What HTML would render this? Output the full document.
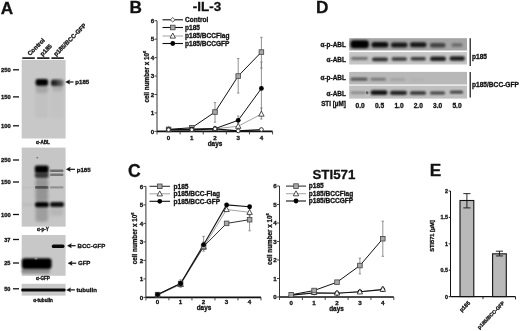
<!DOCTYPE html>
<html><head><meta charset="utf-8"><style>
html,body{margin:0;padding:0;background:#fff;}
svg{display:block;filter:blur(0.3px);}
</style></head><body>
<svg width="520" height="331" viewBox="0 0 520 331" font-family='"Liberation Sans", sans-serif'>
<style>text{stroke:#111;stroke-width:0.3px;paint-order:stroke;}</style>
<defs><filter id="b1" x="-50%" y="-50%" width="200%" height="200%"><feGaussianBlur stdDeviation="0.1"/></filter><filter id="b2" x="-50%" y="-50%" width="200%" height="200%"><feGaussianBlur stdDeviation="0.2"/></filter><filter id="b3" x="-50%" y="-50%" width="200%" height="200%"><feGaussianBlur stdDeviation="0.3"/></filter><filter id="b4" x="-50%" y="-50%" width="200%" height="200%"><feGaussianBlur stdDeviation="0.4"/></filter><filter id="b5" x="-50%" y="-50%" width="200%" height="200%"><feGaussianBlur stdDeviation="0.5"/></filter><filter id="b6" x="-50%" y="-50%" width="200%" height="200%"><feGaussianBlur stdDeviation="0.6"/></filter><filter id="b7" x="-50%" y="-50%" width="200%" height="200%"><feGaussianBlur stdDeviation="0.7"/></filter><filter id="b8" x="-50%" y="-50%" width="200%" height="200%"><feGaussianBlur stdDeviation="0.8"/></filter><filter id="b9" x="-50%" y="-50%" width="200%" height="200%"><feGaussianBlur stdDeviation="0.9"/></filter><filter id="b10" x="-50%" y="-50%" width="200%" height="200%"><feGaussianBlur stdDeviation="1.0"/></filter><filter id="b11" x="-50%" y="-50%" width="200%" height="200%"><feGaussianBlur stdDeviation="1.1"/></filter><filter id="b12" x="-50%" y="-50%" width="200%" height="200%"><feGaussianBlur stdDeviation="1.2"/></filter><filter id="b13" x="-50%" y="-50%" width="200%" height="200%"><feGaussianBlur stdDeviation="1.3"/></filter><filter id="b14" x="-50%" y="-50%" width="200%" height="200%"><feGaussianBlur stdDeviation="1.4"/></filter><filter id="b15" x="-50%" y="-50%" width="200%" height="200%"><feGaussianBlur stdDeviation="1.5"/></filter><filter id="b16" x="-50%" y="-50%" width="200%" height="200%"><feGaussianBlur stdDeviation="1.6"/></filter><filter id="b17" x="-50%" y="-50%" width="200%" height="200%"><feGaussianBlur stdDeviation="1.7"/></filter><filter id="b18" x="-50%" y="-50%" width="200%" height="200%"><feGaussianBlur stdDeviation="1.8"/></filter><filter id="b19" x="-50%" y="-50%" width="200%" height="200%"><feGaussianBlur stdDeviation="1.9"/></filter><filter id="b20" x="-50%" y="-50%" width="200%" height="200%"><feGaussianBlur stdDeviation="2.0"/></filter><filter id="b21" x="-50%" y="-50%" width="200%" height="200%"><feGaussianBlur stdDeviation="2.1"/></filter><filter id="b22" x="-50%" y="-50%" width="200%" height="200%"><feGaussianBlur stdDeviation="2.2"/></filter><filter id="b23" x="-50%" y="-50%" width="200%" height="200%"><feGaussianBlur stdDeviation="2.3"/></filter><filter id="b24" x="-50%" y="-50%" width="200%" height="200%"><feGaussianBlur stdDeviation="2.4"/></filter><filter id="b25" x="-50%" y="-50%" width="200%" height="200%"><feGaussianBlur stdDeviation="2.5"/></filter><filter id="b26" x="-50%" y="-50%" width="200%" height="200%"><feGaussianBlur stdDeviation="2.6"/></filter><filter id="b27" x="-50%" y="-50%" width="200%" height="200%"><feGaussianBlur stdDeviation="2.7"/></filter><filter id="b28" x="-50%" y="-50%" width="200%" height="200%"><feGaussianBlur stdDeviation="2.8"/></filter><filter id="b29" x="-50%" y="-50%" width="200%" height="200%"><feGaussianBlur stdDeviation="2.9"/></filter><filter id="b30" x="-50%" y="-50%" width="200%" height="200%"><feGaussianBlur stdDeviation="3.0"/></filter><linearGradient id="g3" x1="0" x2="1" y1="0" y2="0"><stop offset="0" stop-color="#000" stop-opacity="0.92"/><stop offset="0.45" stop-color="#000" stop-opacity="0.72"/><stop offset="1" stop-color="#000" stop-opacity="0.35"/></linearGradient></defs>
<rect width="520" height="331" fill="#fff"/>
<text x="0.70" y="14.30" font-size="17.2" text-anchor="start" font-weight="bold" fill="#111" >A</text>
<text x="129.60" y="13.40" font-size="17.2" text-anchor="start" font-weight="bold" fill="#111" >B</text>
<text x="128.00" y="176.90" font-size="17.6" text-anchor="start" font-weight="bold" fill="#111" >C</text>
<text x="316.00" y="13.30" font-size="17.2" text-anchor="start" font-weight="bold" fill="#111" >D</text>
<text x="429.80" y="176.00" font-size="17.2" text-anchor="start" font-weight="bold" fill="#111" >E</text>
<line x1="22.30" y1="58.10" x2="34.80" y2="58.10" stroke="#111" stroke-width="1.6"/>
<line x1="37.10" y1="58.10" x2="49.50" y2="58.10" stroke="#111" stroke-width="1.6"/>
<line x1="51.40" y1="58.10" x2="63.80" y2="58.10" stroke="#111" stroke-width="1.6"/>
<text transform="translate(30.00,56.00) rotate(-45)" font-size="6.1" text-anchor="start" font-weight="bold" fill="#111">Control</text>
<text transform="translate(42.60,56.40) rotate(-45)" font-size="6.1" text-anchor="start" font-weight="bold" fill="#111">p185</text>
<text transform="translate(56.00,56.60) rotate(-45)" font-size="6.1" text-anchor="start" font-weight="bold" fill="#111">p185/BCC-GFP</text>
<rect x="21.70" y="60.00" width="43.90" height="78.50" fill="#c8c8c8" />
<rect x="35.00" y="82.00" width="13.50" height="36.00" rx="2.00" fill="#000" fill-opacity="0.035" filter="url(#b15)"/>
<rect x="51.00" y="82.00" width="13.00" height="36.00" rx="2.00" fill="#000" fill-opacity="0.025" filter="url(#b15)"/>
<rect x="35.60" y="79.10" width="12.50" height="6.60" rx="2.20" fill="#000" fill-opacity="1.0" filter="url(#b8)"/>
<rect x="36.00" y="85.00" width="12.00" height="8.00" rx="3.00" fill="#000" fill-opacity="0.14" filter="url(#b15)"/>
<rect x="51.0" y="79.6" width="12.8" height="6.4" rx="2.6" fill="url(#g3)" filter="url(#b8)"/>
<rect x="52.00" y="85.00" width="11.00" height="6.00" rx="3.00" fill="#000" fill-opacity="0.12" filter="url(#b15)"/>
<text x="43.00" y="143.60" font-size="4.6" text-anchor="middle" font-weight="bold" fill="#111" >α-ABL</text>
<text x="1.00" y="71.80" font-size="5.8" text-anchor="start" font-weight="bold" fill="#111" >250</text>
<line x1="13.00" y1="69.80" x2="19.00" y2="69.80" stroke="#111" stroke-width="1.3"/>
<text x="1.00" y="98.90" font-size="5.8" text-anchor="start" font-weight="bold" fill="#111" >150</text>
<line x1="13.00" y1="96.90" x2="19.00" y2="96.90" stroke="#111" stroke-width="1.3"/>
<text x="1.00" y="127.80" font-size="5.8" text-anchor="start" font-weight="bold" fill="#111" >100</text>
<line x1="13.00" y1="125.80" x2="19.00" y2="125.80" stroke="#111" stroke-width="1.3"/>
<line x1="68.60" y1="82.00" x2="73.50" y2="82.00" stroke="#111" stroke-width="1.2"/>
<path d="M65.60,82.00 L69.80,79.80 L69.00,82.00 L69.80,84.20 Z" fill="#111" stroke="#111" stroke-width="0.3"/>
<text x="75.30" y="84.00" font-size="6.1" text-anchor="start" font-weight="bold" fill="#111" >p185</text>
<rect x="21.70" y="147.60" width="43.90" height="79.00" fill="#c6c6c6" />
<rect x="35.50" y="178.00" width="12.50" height="24.00" rx="3.00" fill="#000" fill-opacity="0.25" filter="url(#b16)"/>
<rect x="35.50" y="206.00" width="12.50" height="16.00" rx="3.00" fill="#000" fill-opacity="0.2" filter="url(#b16)"/>
<rect x="34.80" y="165.55" width="13.80" height="7.50" rx="2.00" fill="#000" fill-opacity="1.0" filter="url(#b8)"/>
<rect x="34.80" y="172.45" width="13.80" height="5.50" rx="2.00" fill="#000" fill-opacity="0.72" filter="url(#b8)"/>
<rect x="35.00" y="186.00" width="13.50" height="2.80" rx="1.20" fill="#000" fill-opacity="0.45" filter="url(#b7)"/>
<rect x="35.00" y="202.00" width="13.80" height="5.20" rx="2.00" fill="#000" fill-opacity="1.0" filter="url(#b8)"/>
<ellipse cx="37.30" cy="157.80" rx="1.00" ry="0.80" fill="#000" fill-opacity="0.45" filter="url(#b5)"/>
<rect x="50.00" y="169.60" width="13.50" height="2.40" rx="1.20" fill="#000" fill-opacity="0.45" filter="url(#b6)"/>
<rect x="50.00" y="173.50" width="13.50" height="2.40" rx="1.20" fill="#000" fill-opacity="0.4" filter="url(#b6)"/>
<rect x="50.00" y="186.20" width="13.50" height="2.40" rx="1.20" fill="#000" fill-opacity="0.26" filter="url(#b7)"/>
<rect x="50.00" y="202.10" width="14.00" height="5.00" rx="2.00" fill="#000" fill-opacity="0.92" filter="url(#b9)"/>
<rect x="50.00" y="208.00" width="13.00" height="8.00" rx="3.00" fill="#000" fill-opacity="0.08" filter="url(#b15)"/>
<rect x="22.00" y="186.40" width="12.00" height="2.00" rx="1.00" fill="#000" fill-opacity="0.03" filter="url(#b6)"/>
<rect x="22.00" y="203.10" width="12.00" height="3.00" rx="1.50" fill="#000" fill-opacity="0.05" filter="url(#b8)"/>
<text x="43.00" y="231.30" font-size="4.6" text-anchor="middle" font-weight="bold" fill="#111" >α-p-Y</text>
<text x="1.00" y="162.00" font-size="5.8" text-anchor="start" font-weight="bold" fill="#111" >250</text>
<line x1="13.00" y1="160.00" x2="19.00" y2="160.00" stroke="#111" stroke-width="1.3"/>
<text x="1.00" y="184.00" font-size="5.8" text-anchor="start" font-weight="bold" fill="#111" >150</text>
<line x1="13.00" y1="182.00" x2="19.00" y2="182.00" stroke="#111" stroke-width="1.3"/>
<text x="1.00" y="216.50" font-size="5.8" text-anchor="start" font-weight="bold" fill="#111" >100</text>
<line x1="13.00" y1="214.50" x2="19.00" y2="214.50" stroke="#111" stroke-width="1.3"/>
<line x1="69.20" y1="169.30" x2="74.90" y2="169.30" stroke="#111" stroke-width="1.2"/>
<path d="M66.20,169.30 L70.40,167.10 L69.60,169.30 L70.40,171.50 Z" fill="#111" stroke="#111" stroke-width="0.3"/>
<text x="76.70" y="171.50" font-size="6.1" text-anchor="start" font-weight="bold" fill="#111" >p185</text>
<rect x="21.70" y="235.00" width="43.90" height="40.80" fill="#c8c8c8" />
<rect x="21.80" y="258.30" width="29.80" height="10.80" rx="3.00" fill="#000" fill-opacity="1.0" filter="url(#b9)"/>
<rect x="34.50" y="257.70" width="3.00" height="1.80" rx="0.80" fill="#c8c8c8" fill-opacity="0.6" filter="url(#b6)"/>
<rect x="21.30" y="268.50" width="28.70" height="5.00" rx="2.00" fill="#000" fill-opacity="0.3" filter="url(#b12)"/>
<rect x="51.80" y="244.50" width="12.70" height="3.60" rx="1.60" fill="#000" fill-opacity="0.95" filter="url(#b6)"/>
<text x="43.00" y="280.00" font-size="4.6" text-anchor="middle" font-weight="bold" fill="#111" >α-GFP</text>
<text x="4.20" y="241.50" font-size="5.6" text-anchor="start" font-weight="bold" fill="#111" >37</text>
<line x1="13.00" y1="239.50" x2="19.00" y2="239.50" stroke="#111" stroke-width="1.3"/>
<text x="4.20" y="265.00" font-size="5.6" text-anchor="start" font-weight="bold" fill="#111" >25</text>
<line x1="13.00" y1="263.00" x2="19.00" y2="263.00" stroke="#111" stroke-width="1.3"/>
<line x1="70.30" y1="245.70" x2="75.60" y2="245.70" stroke="#111" stroke-width="1.2"/>
<path d="M67.30,245.70 L71.50,243.50 L70.70,245.70 L71.50,247.90 Z" fill="#111" stroke="#111" stroke-width="0.3"/>
<text x="77.50" y="247.80" font-size="6.1" text-anchor="start" font-weight="bold" fill="#111" >BCC-GFP</text>
<line x1="71.00" y1="263.20" x2="76.20" y2="263.20" stroke="#111" stroke-width="1.2"/>
<path d="M68.00,263.20 L72.20,261.00 L71.40,263.20 L72.20,265.40 Z" fill="#111" stroke="#111" stroke-width="0.3"/>
<text x="77.90" y="265.20" font-size="6.1" text-anchor="start" font-weight="bold" fill="#111" >GFP</text>
<rect x="21.70" y="283.80" width="43.90" height="11.80" fill="#c8c8c8" />
<rect x="21.30" y="288.50" width="44.20" height="3.00" rx="1.00" fill="#000" fill-opacity="0.95" filter="url(#b6)"/>
<text x="43.00" y="301.80" font-size="4.6" text-anchor="middle" font-weight="bold" fill="#111" >α-tubulin</text>
<text x="4.20" y="290.80" font-size="5.6" text-anchor="start" font-weight="bold" fill="#111" >50</text>
<line x1="13.00" y1="288.80" x2="19.00" y2="288.80" stroke="#111" stroke-width="1.3"/>
<line x1="69.50" y1="289.90" x2="74.90" y2="289.90" stroke="#111" stroke-width="1.2"/>
<path d="M66.50,289.90 L70.70,287.70 L69.90,289.90 L70.70,292.10 Z" fill="#111" stroke="#111" stroke-width="0.3"/>
<text x="76.60" y="291.70" font-size="6.1" text-anchor="start" font-weight="bold" fill="#111" >tubulin</text>
<text x="207.00" y="11.00" font-size="13.4" text-anchor="middle" font-weight="bold" fill="#111" >-IL-3</text>
<line x1="157.00" y1="20.70" x2="157.00" y2="131.40" stroke="#333" stroke-width="1.0"/>
<line x1="154.50" y1="131.40" x2="157.00" y2="131.40" stroke="#333" stroke-width="0.9"/>
<text x="154.30" y="133.60" font-size="6.2" text-anchor="end" font-weight="bold" fill="#111" >0</text>
<line x1="154.50" y1="112.95" x2="157.00" y2="112.95" stroke="#333" stroke-width="0.9"/>
<text x="154.30" y="115.15" font-size="6.2" text-anchor="end" font-weight="bold" fill="#111" >1</text>
<line x1="154.50" y1="94.50" x2="157.00" y2="94.50" stroke="#333" stroke-width="0.9"/>
<text x="154.30" y="96.70" font-size="6.2" text-anchor="end" font-weight="bold" fill="#111" >2</text>
<line x1="154.50" y1="76.05" x2="157.00" y2="76.05" stroke="#333" stroke-width="0.9"/>
<text x="154.30" y="78.25" font-size="6.2" text-anchor="end" font-weight="bold" fill="#111" >3</text>
<line x1="154.50" y1="57.60" x2="157.00" y2="57.60" stroke="#333" stroke-width="0.9"/>
<text x="154.30" y="59.80" font-size="6.2" text-anchor="end" font-weight="bold" fill="#111" >4</text>
<line x1="154.50" y1="39.15" x2="157.00" y2="39.15" stroke="#333" stroke-width="0.9"/>
<text x="154.30" y="41.35" font-size="6.2" text-anchor="end" font-weight="bold" fill="#111" >5</text>
<line x1="154.50" y1="20.70" x2="157.00" y2="20.70" stroke="#333" stroke-width="0.9"/>
<text x="154.30" y="22.90" font-size="6.2" text-anchor="end" font-weight="bold" fill="#111" >6</text>
<line x1="157.00" y1="131.40" x2="272.60" y2="131.40" stroke="#111" stroke-width="1.6"/>
<line x1="157.00" y1="131.40" x2="157.00" y2="134.40" stroke="#333" stroke-width="0.9"/>
<line x1="180.12" y1="131.40" x2="180.12" y2="134.40" stroke="#333" stroke-width="0.9"/>
<line x1="203.24" y1="131.40" x2="203.24" y2="134.40" stroke="#333" stroke-width="0.9"/>
<line x1="226.36" y1="131.40" x2="226.36" y2="134.40" stroke="#333" stroke-width="0.9"/>
<line x1="249.48" y1="131.40" x2="249.48" y2="134.40" stroke="#333" stroke-width="0.9"/>
<line x1="272.60" y1="131.40" x2="272.60" y2="134.40" stroke="#333" stroke-width="0.9"/>
<text x="168.60" y="140.20" font-size="6.2" text-anchor="middle" font-weight="bold" fill="#111" >0</text>
<text x="191.80" y="140.20" font-size="6.2" text-anchor="middle" font-weight="bold" fill="#111" >1</text>
<text x="215.00" y="140.20" font-size="6.2" text-anchor="middle" font-weight="bold" fill="#111" >2</text>
<text x="238.20" y="140.20" font-size="6.2" text-anchor="middle" font-weight="bold" fill="#111" >3</text>
<text x="261.40" y="140.20" font-size="6.2" text-anchor="middle" font-weight="bold" fill="#111" >4</text>
<text x="215.00" y="145.60" font-size="6.4" text-anchor="middle" font-weight="bold" fill="#111" >days</text>
<text transform="translate(148.80,76.60) rotate(-90)" font-size="6.3" text-anchor="middle" font-weight="bold" fill="#111">cell number x 10<tspan font-size="4" dy="-2.5">6</tspan></text>
<line x1="261.40" y1="107.97" x2="261.40" y2="119.04" stroke="#777" stroke-width="0.8"/>
<line x1="260.20" y1="107.97" x2="262.60" y2="107.97" stroke="#777" stroke-width="0.8"/>
<line x1="260.20" y1="119.04" x2="262.60" y2="119.04" stroke="#777" stroke-width="0.8"/>
<polyline points="168.60,129.56 191.80,129.19 215.00,128.82 238.20,126.23 261.40,114.06" fill="none" stroke="#999" stroke-width="0.9"/>
<line x1="215.00" y1="102.62" x2="215.00" y2="122.18" stroke="#777" stroke-width="0.8"/>
<line x1="213.80" y1="102.62" x2="216.20" y2="102.62" stroke="#777" stroke-width="0.8"/>
<line x1="213.80" y1="122.18" x2="216.20" y2="122.18" stroke="#777" stroke-width="0.8"/>
<line x1="238.20" y1="58.52" x2="238.20" y2="93.02" stroke="#777" stroke-width="0.8"/>
<line x1="237.00" y1="58.52" x2="239.40" y2="58.52" stroke="#777" stroke-width="0.8"/>
<line x1="237.00" y1="93.02" x2="239.40" y2="93.02" stroke="#777" stroke-width="0.8"/>
<line x1="261.40" y1="37.31" x2="261.40" y2="68.12" stroke="#777" stroke-width="0.8"/>
<line x1="260.20" y1="37.31" x2="262.60" y2="37.31" stroke="#777" stroke-width="0.8"/>
<line x1="260.20" y1="68.12" x2="262.60" y2="68.12" stroke="#777" stroke-width="0.8"/>
<polyline points="168.60,129.37 191.80,127.71 215.00,112.03 238.20,76.05 261.40,52.07" fill="none" stroke="#111" stroke-width="1.0"/>
<line x1="238.20" y1="116.09" x2="238.20" y2="123.10" stroke="#777" stroke-width="0.8"/>
<line x1="237.00" y1="116.09" x2="239.40" y2="116.09" stroke="#777" stroke-width="0.8"/>
<line x1="237.00" y1="123.10" x2="239.40" y2="123.10" stroke="#777" stroke-width="0.8"/>
<line x1="261.40" y1="62.03" x2="261.40" y2="114.98" stroke="#777" stroke-width="0.8"/>
<line x1="260.20" y1="62.03" x2="262.60" y2="62.03" stroke="#777" stroke-width="0.8"/>
<line x1="260.20" y1="114.98" x2="262.60" y2="114.98" stroke="#777" stroke-width="0.8"/>
<polyline points="168.60,129.56 191.80,129.19 215.00,128.63 238.20,120.33 261.40,88.41" fill="none" stroke="#111" stroke-width="1.0"/>
<polyline points="168.60,129.74 191.80,129.74 215.00,128.82 238.20,130.85 261.40,129.56" fill="none" stroke="#111" stroke-width="1.3"/>
<path d="M168.60,126.66 L171.30,131.66 L165.90,131.66 Z" fill="#fff" stroke="#222" stroke-width="0.8"/>
<path d="M191.80,126.29 L194.50,131.29 L189.10,131.29 Z" fill="#fff" stroke="#222" stroke-width="0.8"/>
<path d="M215.00,125.92 L217.70,130.92 L212.30,130.92 Z" fill="#fff" stroke="#222" stroke-width="0.8"/>
<path d="M238.20,123.33 L240.90,128.33 L235.50,128.33 Z" fill="#fff" stroke="#222" stroke-width="0.8"/>
<path d="M261.40,111.16 L264.10,116.16 L258.70,116.16 Z" fill="#fff" stroke="#222" stroke-width="0.8"/>
<rect x="166.30" y="127.07" width="4.60" height="4.60" fill="#a8a8a8" stroke="#444" stroke-width="0.8"/>
<rect x="189.50" y="125.41" width="4.60" height="4.60" fill="#a8a8a8" stroke="#444" stroke-width="0.8"/>
<rect x="212.70" y="109.73" width="4.60" height="4.60" fill="#a8a8a8" stroke="#444" stroke-width="0.8"/>
<rect x="235.90" y="73.75" width="4.60" height="4.60" fill="#a8a8a8" stroke="#444" stroke-width="0.8"/>
<rect x="259.10" y="49.77" width="4.60" height="4.60" fill="#a8a8a8" stroke="#444" stroke-width="0.8"/>
<circle cx="168.60" cy="129.56" r="2.40" fill="#000"/>
<circle cx="191.80" cy="129.19" r="2.40" fill="#000"/>
<circle cx="215.00" cy="128.63" r="2.40" fill="#000"/>
<circle cx="238.20" cy="120.33" r="2.40" fill="#000"/>
<circle cx="261.40" cy="88.41" r="2.40" fill="#000"/>
<circle cx="168.60" cy="129.74" r="1.90" fill="#fff" stroke="#333" stroke-width="1.0"/>
<circle cx="191.80" cy="129.74" r="1.90" fill="#fff" stroke="#333" stroke-width="1.0"/>
<circle cx="215.00" cy="128.82" r="1.90" fill="#fff" stroke="#333" stroke-width="1.0"/>
<circle cx="238.20" cy="130.85" r="1.90" fill="#fff" stroke="#333" stroke-width="1.0"/>
<circle cx="261.40" cy="129.56" r="1.90" fill="#fff" stroke="#333" stroke-width="1.0"/>
<line x1="162.50" y1="19.80" x2="183.00" y2="19.80" stroke="#111" stroke-width="1.1"/>
<path d="M172.75,17.50 L175.05,19.80 L172.75,22.10 L170.45,19.80 Z" fill="#fff" stroke="#444" stroke-width="0.9"/>
<text x="185.00" y="22.10" font-size="6.55" text-anchor="start" font-weight="bold" fill="#111" >Control</text>
<line x1="162.50" y1="27.50" x2="183.00" y2="27.50" stroke="#111" stroke-width="1.1"/>
<rect x="170.45" y="25.20" width="4.60" height="4.60" fill="#a8a8a8" stroke="#444" stroke-width="0.8"/>
<text x="185.00" y="29.80" font-size="6.55" text-anchor="start" font-weight="bold" fill="#111" >p185</text>
<line x1="162.50" y1="36.00" x2="183.00" y2="36.00" stroke="#aaa" stroke-width="1.1"/>
<path d="M172.75,33.10 L175.45,38.10 L170.05,38.10 Z" fill="#fff" stroke="#222" stroke-width="0.8"/>
<text x="185.00" y="38.30" font-size="6.55" text-anchor="start" font-weight="bold" fill="#111" >p185/BCCFlag</text>
<line x1="162.50" y1="43.50" x2="183.00" y2="43.50" stroke="#111" stroke-width="1.1"/>
<circle cx="172.75" cy="43.50" r="2.40" fill="#000"/>
<text x="185.00" y="45.80" font-size="6.55" text-anchor="start" font-weight="bold" fill="#111" >p185/BCCGFP</text>
<line x1="145.90" y1="186.40" x2="145.90" y2="297.40" stroke="#333" stroke-width="1.0"/>
<line x1="143.40" y1="297.40" x2="145.90" y2="297.40" stroke="#333" stroke-width="0.9"/>
<text x="143.20" y="299.60" font-size="6.2" text-anchor="end" font-weight="bold" fill="#111" >0</text>
<line x1="143.40" y1="278.90" x2="145.90" y2="278.90" stroke="#333" stroke-width="0.9"/>
<text x="143.20" y="281.10" font-size="6.2" text-anchor="end" font-weight="bold" fill="#111" >1</text>
<line x1="143.40" y1="260.40" x2="145.90" y2="260.40" stroke="#333" stroke-width="0.9"/>
<text x="143.20" y="262.60" font-size="6.2" text-anchor="end" font-weight="bold" fill="#111" >2</text>
<line x1="143.40" y1="241.90" x2="145.90" y2="241.90" stroke="#333" stroke-width="0.9"/>
<text x="143.20" y="244.10" font-size="6.2" text-anchor="end" font-weight="bold" fill="#111" >3</text>
<line x1="143.40" y1="223.40" x2="145.90" y2="223.40" stroke="#333" stroke-width="0.9"/>
<text x="143.20" y="225.60" font-size="6.2" text-anchor="end" font-weight="bold" fill="#111" >4</text>
<line x1="143.40" y1="204.90" x2="145.90" y2="204.90" stroke="#333" stroke-width="0.9"/>
<text x="143.20" y="207.10" font-size="6.2" text-anchor="end" font-weight="bold" fill="#111" >5</text>
<line x1="143.40" y1="186.40" x2="145.90" y2="186.40" stroke="#333" stroke-width="0.9"/>
<text x="143.20" y="188.60" font-size="6.2" text-anchor="end" font-weight="bold" fill="#111" >6</text>
<line x1="145.90" y1="297.40" x2="261.00" y2="297.40" stroke="#111" stroke-width="1.6"/>
<line x1="145.90" y1="297.40" x2="145.90" y2="300.40" stroke="#333" stroke-width="0.9"/>
<line x1="168.92" y1="297.40" x2="168.92" y2="300.40" stroke="#333" stroke-width="0.9"/>
<line x1="191.94" y1="297.40" x2="191.94" y2="300.40" stroke="#333" stroke-width="0.9"/>
<line x1="214.96" y1="297.40" x2="214.96" y2="300.40" stroke="#333" stroke-width="0.9"/>
<line x1="237.98" y1="297.40" x2="237.98" y2="300.40" stroke="#333" stroke-width="0.9"/>
<line x1="261.00" y1="297.40" x2="261.00" y2="300.40" stroke="#333" stroke-width="0.9"/>
<text x="157.60" y="304.40" font-size="6.2" text-anchor="middle" font-weight="bold" fill="#111" >0</text>
<text x="180.60" y="304.40" font-size="6.2" text-anchor="middle" font-weight="bold" fill="#111" >1</text>
<text x="203.60" y="304.40" font-size="6.2" text-anchor="middle" font-weight="bold" fill="#111" >2</text>
<text x="226.60" y="304.40" font-size="6.2" text-anchor="middle" font-weight="bold" fill="#111" >3</text>
<text x="249.60" y="304.40" font-size="6.2" text-anchor="middle" font-weight="bold" fill="#111" >4</text>
<text x="204.00" y="310.30" font-size="6.4" text-anchor="middle" font-weight="bold" fill="#111" >days</text>
<text transform="translate(136.80,238.40) rotate(-90)" font-size="6.3" text-anchor="middle" font-weight="bold" fill="#111">cell number x 10<tspan font-size="4" dy="-2.5">6</tspan></text>
<line x1="249.60" y1="208.60" x2="249.60" y2="216.00" stroke="#777" stroke-width="0.8"/>
<line x1="248.40" y1="208.60" x2="250.80" y2="208.60" stroke="#777" stroke-width="0.8"/>
<line x1="248.40" y1="216.00" x2="250.80" y2="216.00" stroke="#777" stroke-width="0.8"/>
<polyline points="157.60,295.18 180.60,284.45 203.60,247.08 226.60,209.52 249.60,212.30" fill="none" stroke="#999" stroke-width="0.9"/>
<line x1="249.60" y1="214.70" x2="249.60" y2="230.80" stroke="#777" stroke-width="0.8"/>
<line x1="248.40" y1="214.70" x2="250.80" y2="214.70" stroke="#777" stroke-width="0.8"/>
<line x1="248.40" y1="230.80" x2="250.80" y2="230.80" stroke="#777" stroke-width="0.8"/>
<line x1="180.60" y1="279.82" x2="180.60" y2="287.22" stroke="#777" stroke-width="0.8"/>
<line x1="179.40" y1="279.82" x2="181.80" y2="279.82" stroke="#777" stroke-width="0.8"/>
<line x1="179.40" y1="287.22" x2="181.80" y2="287.22" stroke="#777" stroke-width="0.8"/>
<line x1="203.60" y1="241.90" x2="203.60" y2="251.15" stroke="#777" stroke-width="0.8"/>
<line x1="202.40" y1="241.90" x2="204.80" y2="241.90" stroke="#777" stroke-width="0.8"/>
<line x1="202.40" y1="251.15" x2="204.80" y2="251.15" stroke="#777" stroke-width="0.8"/>
<polyline points="157.60,294.62 180.60,283.52 203.60,246.52 226.60,223.40 249.60,219.70" fill="none" stroke="#333" stroke-width="1.0"/>
<line x1="203.60" y1="236.35" x2="203.60" y2="247.45" stroke="#777" stroke-width="0.8"/>
<line x1="202.40" y1="236.35" x2="204.80" y2="236.35" stroke="#777" stroke-width="0.8"/>
<line x1="202.40" y1="247.45" x2="204.80" y2="247.45" stroke="#777" stroke-width="0.8"/>
<polyline points="157.60,294.62 180.60,283.52 203.60,244.67 226.60,204.90 249.60,206.75" fill="none" stroke="#111" stroke-width="1.1"/>
<path d="M157.60,292.28 L160.30,297.28 L154.90,297.28 Z" fill="#fff" stroke="#222" stroke-width="0.8"/>
<path d="M180.60,281.55 L183.30,286.55 L177.90,286.55 Z" fill="#fff" stroke="#222" stroke-width="0.8"/>
<path d="M203.60,244.18 L206.30,249.18 L200.90,249.18 Z" fill="#fff" stroke="#222" stroke-width="0.8"/>
<path d="M226.60,206.62 L229.30,211.62 L223.90,211.62 Z" fill="#fff" stroke="#222" stroke-width="0.8"/>
<path d="M249.60,209.40 L252.30,214.40 L246.90,214.40 Z" fill="#fff" stroke="#222" stroke-width="0.8"/>
<rect x="155.30" y="292.32" width="4.60" height="4.60" fill="#a8a8a8" stroke="#444" stroke-width="0.8"/>
<rect x="178.30" y="281.22" width="4.60" height="4.60" fill="#a8a8a8" stroke="#444" stroke-width="0.8"/>
<rect x="201.30" y="244.22" width="4.60" height="4.60" fill="#a8a8a8" stroke="#444" stroke-width="0.8"/>
<rect x="224.30" y="221.10" width="4.60" height="4.60" fill="#a8a8a8" stroke="#444" stroke-width="0.8"/>
<rect x="247.30" y="217.40" width="4.60" height="4.60" fill="#a8a8a8" stroke="#444" stroke-width="0.8"/>
<circle cx="157.60" cy="294.62" r="2.40" fill="#000"/>
<circle cx="180.60" cy="283.52" r="2.40" fill="#000"/>
<circle cx="203.60" cy="244.67" r="2.40" fill="#000"/>
<circle cx="226.60" cy="204.90" r="2.40" fill="#000"/>
<circle cx="249.60" cy="206.75" r="2.40" fill="#000"/>
<line x1="149.50" y1="186.30" x2="170.00" y2="186.30" stroke="#333" stroke-width="1.1"/>
<rect x="157.45" y="184.00" width="4.60" height="4.60" fill="#a8a8a8" stroke="#444" stroke-width="0.8"/>
<text x="173.50" y="188.60" font-size="6.55" text-anchor="start" font-weight="bold" fill="#111" >p185</text>
<line x1="149.50" y1="193.80" x2="170.00" y2="193.80" stroke="#aaa" stroke-width="1.1"/>
<path d="M159.75,190.90 L162.45,195.90 L157.05,195.90 Z" fill="#fff" stroke="#222" stroke-width="0.8"/>
<text x="173.50" y="196.10" font-size="6.55" text-anchor="start" font-weight="bold" fill="#111" >p185/BCC-Flag</text>
<line x1="149.50" y1="201.30" x2="170.00" y2="201.30" stroke="#111" stroke-width="1.1"/>
<circle cx="159.75" cy="201.30" r="2.40" fill="#000"/>
<text x="173.50" y="203.60" font-size="6.55" text-anchor="start" font-weight="bold" fill="#111" >p185/BCC-GFP</text>
<text x="333.90" y="178.90" font-size="13.3" text-anchor="middle" font-weight="bold" fill="#111" >STI571</text>
<line x1="279.50" y1="186.00" x2="279.50" y2="297.00" stroke="#333" stroke-width="1.0"/>
<line x1="277.00" y1="297.00" x2="279.50" y2="297.00" stroke="#333" stroke-width="0.9"/>
<text x="276.80" y="299.20" font-size="6.2" text-anchor="end" font-weight="bold" fill="#111" >0</text>
<line x1="277.00" y1="278.50" x2="279.50" y2="278.50" stroke="#333" stroke-width="0.9"/>
<text x="276.80" y="280.70" font-size="6.2" text-anchor="end" font-weight="bold" fill="#111" >1</text>
<line x1="277.00" y1="260.00" x2="279.50" y2="260.00" stroke="#333" stroke-width="0.9"/>
<text x="276.80" y="262.20" font-size="6.2" text-anchor="end" font-weight="bold" fill="#111" >2</text>
<line x1="277.00" y1="241.50" x2="279.50" y2="241.50" stroke="#333" stroke-width="0.9"/>
<text x="276.80" y="243.70" font-size="6.2" text-anchor="end" font-weight="bold" fill="#111" >3</text>
<line x1="277.00" y1="223.00" x2="279.50" y2="223.00" stroke="#333" stroke-width="0.9"/>
<text x="276.80" y="225.20" font-size="6.2" text-anchor="end" font-weight="bold" fill="#111" >4</text>
<line x1="277.00" y1="204.50" x2="279.50" y2="204.50" stroke="#333" stroke-width="0.9"/>
<text x="276.80" y="206.70" font-size="6.2" text-anchor="end" font-weight="bold" fill="#111" >5</text>
<line x1="277.00" y1="186.00" x2="279.50" y2="186.00" stroke="#333" stroke-width="0.9"/>
<text x="276.80" y="188.20" font-size="6.2" text-anchor="end" font-weight="bold" fill="#111" >6</text>
<line x1="279.50" y1="297.00" x2="393.80" y2="297.00" stroke="#111" stroke-width="1.6"/>
<line x1="279.50" y1="297.00" x2="279.50" y2="300.00" stroke="#333" stroke-width="0.9"/>
<line x1="302.36" y1="297.00" x2="302.36" y2="300.00" stroke="#333" stroke-width="0.9"/>
<line x1="325.22" y1="297.00" x2="325.22" y2="300.00" stroke="#333" stroke-width="0.9"/>
<line x1="348.08" y1="297.00" x2="348.08" y2="300.00" stroke="#333" stroke-width="0.9"/>
<line x1="370.94" y1="297.00" x2="370.94" y2="300.00" stroke="#333" stroke-width="0.9"/>
<line x1="393.80" y1="297.00" x2="393.80" y2="300.00" stroke="#333" stroke-width="0.9"/>
<text x="291.20" y="305.20" font-size="6.2" text-anchor="middle" font-weight="bold" fill="#111" >0</text>
<text x="314.10" y="305.20" font-size="6.2" text-anchor="middle" font-weight="bold" fill="#111" >1</text>
<text x="337.00" y="305.20" font-size="6.2" text-anchor="middle" font-weight="bold" fill="#111" >2</text>
<text x="359.90" y="305.20" font-size="6.2" text-anchor="middle" font-weight="bold" fill="#111" >3</text>
<text x="382.80" y="305.20" font-size="6.2" text-anchor="middle" font-weight="bold" fill="#111" >4</text>
<text x="336.50" y="310.80" font-size="6.4" text-anchor="middle" font-weight="bold" fill="#111" >days</text>
<text transform="translate(271.80,239.10) rotate(-90)" font-size="6.3" text-anchor="middle" font-weight="bold" fill="#111">cell number x 10<tspan font-size="4" dy="-2.5">6</tspan></text>
<line x1="382.80" y1="286.82" x2="382.80" y2="291.45" stroke="#777" stroke-width="0.8"/>
<line x1="381.60" y1="286.82" x2="384.00" y2="286.82" stroke="#777" stroke-width="0.8"/>
<line x1="381.60" y1="291.45" x2="384.00" y2="291.45" stroke="#777" stroke-width="0.8"/>
<polyline points="291.20,295.15 314.10,292.38 337.00,292.93 359.90,291.82 382.80,289.23" fill="none" stroke="#999" stroke-width="0.9"/>
<polyline points="291.20,295.15 314.10,292.93 337.00,293.30 359.90,291.82 382.80,289.60" fill="none" stroke="#111" stroke-width="1.1"/>
<line x1="359.90" y1="258.15" x2="359.90" y2="273.88" stroke="#777" stroke-width="0.8"/>
<line x1="358.70" y1="258.15" x2="361.10" y2="258.15" stroke="#777" stroke-width="0.8"/>
<line x1="358.70" y1="273.88" x2="361.10" y2="273.88" stroke="#777" stroke-width="0.8"/>
<line x1="382.80" y1="221.15" x2="382.80" y2="256.30" stroke="#777" stroke-width="0.8"/>
<line x1="381.60" y1="221.15" x2="384.00" y2="221.15" stroke="#777" stroke-width="0.8"/>
<line x1="381.60" y1="256.30" x2="384.00" y2="256.30" stroke="#777" stroke-width="0.8"/>
<polyline points="291.20,294.78 314.10,290.52 337.00,282.20 359.90,265.55 382.80,238.72" fill="none" stroke="#111" stroke-width="1.0"/>
<circle cx="291.20" cy="295.15" r="2.40" fill="#000"/>
<circle cx="314.10" cy="292.93" r="2.40" fill="#000"/>
<circle cx="337.00" cy="293.30" r="2.40" fill="#000"/>
<circle cx="359.90" cy="291.82" r="2.40" fill="#000"/>
<circle cx="382.80" cy="289.60" r="2.40" fill="#000"/>
<path d="M291.20,292.25 L293.90,297.25 L288.50,297.25 Z" fill="#fff" stroke="#222" stroke-width="0.8"/>
<path d="M314.10,289.48 L316.80,294.48 L311.40,294.48 Z" fill="#fff" stroke="#222" stroke-width="0.8"/>
<path d="M337.00,290.03 L339.70,295.03 L334.30,295.03 Z" fill="#fff" stroke="#222" stroke-width="0.8"/>
<path d="M359.90,288.92 L362.60,293.92 L357.20,293.92 Z" fill="#fff" stroke="#222" stroke-width="0.8"/>
<path d="M382.80,286.33 L385.50,291.33 L380.10,291.33 Z" fill="#fff" stroke="#222" stroke-width="0.8"/>
<rect x="288.90" y="292.48" width="4.60" height="4.60" fill="#a8a8a8" stroke="#444" stroke-width="0.8"/>
<rect x="311.80" y="288.22" width="4.60" height="4.60" fill="#a8a8a8" stroke="#444" stroke-width="0.8"/>
<rect x="334.70" y="279.90" width="4.60" height="4.60" fill="#a8a8a8" stroke="#444" stroke-width="0.8"/>
<rect x="357.60" y="263.25" width="4.60" height="4.60" fill="#a8a8a8" stroke="#444" stroke-width="0.8"/>
<rect x="380.50" y="236.42" width="4.60" height="4.60" fill="#a8a8a8" stroke="#444" stroke-width="0.8"/>
<line x1="286.00" y1="186.10" x2="306.00" y2="186.10" stroke="#333" stroke-width="1.1"/>
<rect x="293.70" y="183.80" width="4.60" height="4.60" fill="#a8a8a8" stroke="#444" stroke-width="0.8"/>
<text x="308.80" y="188.40" font-size="6.55" text-anchor="start" font-weight="bold" fill="#111" >p185</text>
<line x1="286.00" y1="193.70" x2="306.00" y2="193.70" stroke="#aaa" stroke-width="1.1"/>
<path d="M296.00,190.80 L298.70,195.80 L293.30,195.80 Z" fill="#fff" stroke="#222" stroke-width="0.8"/>
<text x="308.80" y="196.00" font-size="6.55" text-anchor="start" font-weight="bold" fill="#111" >p185/BCCFlag</text>
<line x1="286.00" y1="201.00" x2="306.00" y2="201.00" stroke="#111" stroke-width="1.1"/>
<circle cx="296.00" cy="201.00" r="2.40" fill="#000"/>
<text x="308.80" y="203.30" font-size="6.55" text-anchor="start" font-weight="bold" fill="#111" >p185/BCCGFP</text>
<rect x="349.20" y="38.20" width="117.80" height="12.30" fill="#a4a4a4" />
<rect x="349.20" y="52.10" width="117.80" height="12.40" fill="#c6c6c6" />
<rect x="349.20" y="71.90" width="117.80" height="12.60" fill="#b8b8b8" />
<rect x="349.20" y="85.60" width="117.80" height="13.00" fill="#c0c0c0" />
<rect x="350.50" y="40.20" width="18.30" height="8.00" rx="3.00" fill="#000" fill-opacity="1.0" filter="url(#b11)"/>
<rect x="371.50" y="42.00" width="16.80" height="5.60" rx="2.50" fill="#000" fill-opacity="0.92" filter="url(#b11)"/>
<rect x="391.00" y="42.60" width="16.50" height="4.80" rx="2.20" fill="#000" fill-opacity="0.85" filter="url(#b11)"/>
<rect x="410.00" y="42.30" width="16.50" height="5.00" rx="2.20" fill="#000" fill-opacity="0.86" filter="url(#b11)"/>
<rect x="430.00" y="43.00" width="15.50" height="4.40" rx="2.00" fill="#000" fill-opacity="0.6" filter="url(#b11)"/>
<rect x="451.50" y="43.20" width="11.00" height="3.60" rx="1.60" fill="#000" fill-opacity="0.36" filter="url(#b11)"/>
<rect x="351.00" y="57.10" width="17.00" height="2.80" rx="1.40" fill="#000" fill-opacity="0.45" filter="url(#b9)"/>
<rect x="372.00" y="57.40" width="16.00" height="3.80" rx="1.80" fill="#000" fill-opacity="0.78" filter="url(#b9)"/>
<rect x="391.50" y="57.30" width="15.50" height="3.40" rx="1.70" fill="#000" fill-opacity="0.72" filter="url(#b9)"/>
<rect x="410.50" y="57.00" width="15.50" height="3.60" rx="1.80" fill="#000" fill-opacity="0.72" filter="url(#b9)"/>
<rect x="430.00" y="56.50" width="16.00" height="4.60" rx="2.20" fill="#000" fill-opacity="0.85" filter="url(#b9)"/>
<rect x="449.50" y="56.30" width="15.50" height="4.40" rx="2.20" fill="#000" fill-opacity="0.85" filter="url(#b9)"/>
<rect x="350.60" y="77.80" width="16.90" height="2.80" rx="1.20" fill="#000" fill-opacity="0.6" filter="url(#b8)"/>
<rect x="370.50" y="77.90" width="15.50" height="2.60" rx="1.20" fill="#000" fill-opacity="0.4" filter="url(#b9)"/>
<rect x="390.00" y="78.50" width="15.00" height="2.00" rx="1.00" fill="#000" fill-opacity="0.16" filter="url(#b9)"/>
<rect x="410.00" y="78.60" width="14.00" height="1.80" rx="1.00" fill="#000" fill-opacity="0.05" filter="url(#b9)"/>
<rect x="350.60" y="91.50" width="15.40" height="2.60" rx="1.20" fill="#000" fill-opacity="0.3" filter="url(#b9)"/>
<rect x="366.00" y="91.30" width="2.50" height="3.00" rx="1.20" fill="#000" fill-opacity="0.5" filter="url(#b7)"/>
<rect x="370.50" y="90.20" width="17.00" height="4.80" rx="2.20" fill="#000" fill-opacity="0.9" filter="url(#b9)"/>
<rect x="390.00" y="90.70" width="17.00" height="4.20" rx="2.00" fill="#000" fill-opacity="0.82" filter="url(#b9)"/>
<rect x="410.00" y="91.30" width="16.00" height="3.40" rx="1.50" fill="#000" fill-opacity="0.75" filter="url(#b9)"/>
<rect x="430.00" y="91.40" width="15.00" height="3.20" rx="1.40" fill="#000" fill-opacity="0.68" filter="url(#b9)"/>
<rect x="450.00" y="90.80" width="13.00" height="2.80" rx="1.20" fill="#000" fill-opacity="0.72" filter="url(#b9)"/>
<text x="345.80" y="47.10" font-size="6.4" text-anchor="end" font-weight="bold" fill="#111" >α-p-ABL</text>
<text x="345.80" y="61.80" font-size="6.4" text-anchor="end" font-weight="bold" fill="#111" >α-ABL</text>
<text x="345.80" y="80.40" font-size="6.4" text-anchor="end" font-weight="bold" fill="#111" >α-p-ABL</text>
<text x="345.80" y="95.60" font-size="6.4" text-anchor="end" font-weight="bold" fill="#111" >α-ABL</text>
<text x="345.80" y="106.00" font-size="6.3" text-anchor="end" font-weight="bold" fill="#111" >STI [µM]</text>
<text x="360.20" y="107.60" font-size="6.6" text-anchor="middle" font-weight="bold" fill="#111" >0.0</text>
<text x="379.50" y="107.60" font-size="6.6" text-anchor="middle" font-weight="bold" fill="#111" >0.5</text>
<text x="399.00" y="107.60" font-size="6.6" text-anchor="middle" font-weight="bold" fill="#111" >1.0</text>
<text x="418.30" y="107.60" font-size="6.6" text-anchor="middle" font-weight="bold" fill="#111" >2.0</text>
<text x="437.60" y="107.60" font-size="6.6" text-anchor="middle" font-weight="bold" fill="#111" >3.0</text>
<text x="457.00" y="107.60" font-size="6.6" text-anchor="middle" font-weight="bold" fill="#111" >5.0</text>
<line x1="470.20" y1="38.30" x2="470.20" y2="66.00" stroke="#111" stroke-width="1.2"/>
<line x1="470.20" y1="72.00" x2="470.20" y2="97.50" stroke="#111" stroke-width="1.2"/>
<text x="472.00" y="59.00" font-size="6.6" text-anchor="start" font-weight="bold" fill="#111" >p185</text>
<text x="472.00" y="87.40" font-size="6.6" text-anchor="start" font-weight="bold" fill="#111" >p185/BCC-GFP</text>
<line x1="450.50" y1="191.00" x2="450.50" y2="296.60" stroke="#111" stroke-width="1.0"/>
<line x1="448.70" y1="191.00" x2="450.50" y2="191.00" stroke="#111" stroke-width="0.9"/>
<text x="448.00" y="192.90" font-size="5.4" text-anchor="end" font-weight="bold" fill="#111" >2</text>
<line x1="448.70" y1="217.40" x2="450.50" y2="217.40" stroke="#111" stroke-width="0.9"/>
<text x="448.00" y="219.30" font-size="5.4" text-anchor="end" font-weight="bold" fill="#111" >1.5</text>
<line x1="448.70" y1="243.80" x2="450.50" y2="243.80" stroke="#111" stroke-width="0.9"/>
<text x="448.00" y="245.70" font-size="5.4" text-anchor="end" font-weight="bold" fill="#111" >1</text>
<line x1="448.70" y1="270.20" x2="450.50" y2="270.20" stroke="#111" stroke-width="0.9"/>
<text x="448.00" y="272.10" font-size="5.4" text-anchor="end" font-weight="bold" fill="#111" >0.5</text>
<line x1="448.70" y1="296.60" x2="450.50" y2="296.60" stroke="#111" stroke-width="0.9"/>
<text x="448.00" y="298.50" font-size="5.4" text-anchor="end" font-weight="bold" fill="#111" >0</text>
<line x1="450.50" y1="296.60" x2="515.50" y2="296.60" stroke="#111" stroke-width="1.3"/>
<line x1="483.00" y1="296.60" x2="483.00" y2="299.10" stroke="#111" stroke-width="0.9"/>
<line x1="515.50" y1="296.60" x2="515.50" y2="299.40" stroke="#111" stroke-width="0.9"/>
<rect x="460.00" y="200.50" width="13.80" height="96.10" fill="#b9b9b9" stroke="#111" stroke-width="1.1"/>
<line x1="466.90" y1="193.64" x2="466.90" y2="207.90" stroke="#111" stroke-width="0.9"/>
<line x1="463.30" y1="193.64" x2="470.50" y2="193.64" stroke="#111" stroke-width="0.9"/>
<line x1="463.30" y1="207.90" x2="470.50" y2="207.90" stroke="#111" stroke-width="0.9"/>
<rect x="492.60" y="253.83" width="13.70" height="42.77" fill="#b9b9b9" stroke="#111" stroke-width="1.1"/>
<line x1="499.45" y1="251.19" x2="499.45" y2="255.94" stroke="#111" stroke-width="0.9"/>
<line x1="495.85" y1="251.19" x2="503.05" y2="251.19" stroke="#111" stroke-width="0.9"/>
<line x1="495.85" y1="255.94" x2="503.05" y2="255.94" stroke="#111" stroke-width="0.9"/>
<text transform="translate(434.2,236.0) rotate(-90)" font-size="5.7" text-anchor="middle" font-weight="bold" fill="#111">STI571 [µM]</text>
<text transform="translate(470.60,303.20) rotate(-46)" font-size="5.6" text-anchor="end" font-weight="bold" fill="#111">p185</text>
<text transform="translate(505.00,303.20) rotate(-46)" font-size="5.15" text-anchor="end" font-weight="bold" fill="#111">p185/BCC-GFP</text>
</svg>
</body></html>
